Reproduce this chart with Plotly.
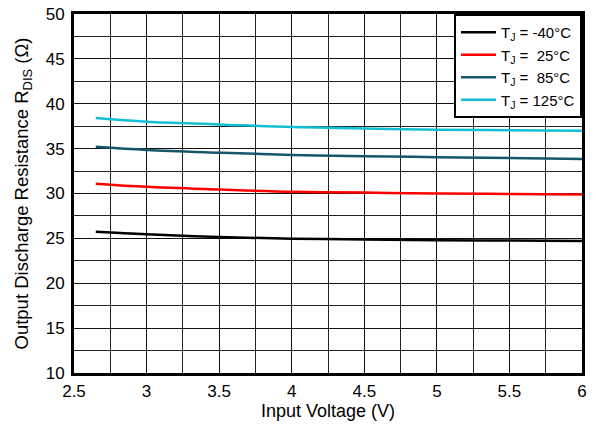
import plotly.graph_objects as go

vin = [2.65, 3.0, 3.5, 4.0, 4.5, 5.0, 5.5, 6.0]
r_m40 = [25.73, 25.45, 25.15, 24.96, 24.88, 24.8, 24.75, 24.7]
r_25 = [31.1, 30.75, 30.45, 30.2, 30.1, 30.0, 29.95, 29.9]
r_85 = [35.2, 34.85, 34.55, 34.3, 34.15, 34.05, 33.95, 33.85]
r_125 = [38.4, 38.0, 37.7, 37.4, 37.25, 37.1, 37.05, 37.0]

names = ["T<sub>J</sub> = -40°C", "T<sub>J</sub> =\u00a0\u00a025°C",
         "T<sub>J</sub> =\u00a0\u00a085°C", "T<sub>J</sub> = 125°C"]
series = [r_m40, r_25, r_85, r_125]
colors = ["#000000", "#ff0000", "#17576b", "#12c0d4"]

fig = go.Figure()
for n, s, c in zip(names, series, colors):
    fig.add_trace(go.Scatter(x=vin, y=s, name=n, mode="lines",
                             line=dict(color=c, width=2.5, shape="spline")))

font = "Liberation Sans, Arial, sans-serif"
# page body has an 8px margin, so the figure is offset by 8px
fig.update_layout(
    width=580, height=417,
    margin=dict(l=66, r=6, t=6, b=52),
    paper_bgcolor="white", plot_bgcolor="white",
    font=dict(family=font, color="black", size=17),
    showlegend=True,
    legend=dict(x=1, y=1, xanchor="right", yanchor="top",
                bgcolor="white", bordercolor="black", borderwidth=2,
                font=dict(size=15, family=font), tracegroupgap=0,
                itemwidth=35),
)
fig.update_xaxes(range=[2.5, 6], dtick=0.5, tick0=2.5,
                 showgrid=True, gridcolor="#111111", gridwidth=1,
                 minor=dict(dtick=0.25, showgrid=True, gridcolor="#222222", gridwidth=1),
                 showline=True, linecolor="black", linewidth=3, mirror=True,
                 ticks="outside", ticklen=1, tickcolor="rgba(0,0,0,0)",
                 zeroline=False, automargin=False, ticklabeloverflow="allow",
                 title=dict(text="Input Voltage (V)", font=dict(size=18), standoff=4),
                 tickfont=dict(size=17))
fig.update_yaxes(range=[10, 50], dtick=5,
                 showgrid=True, gridcolor="#111111", gridwidth=1,
                 minor=dict(dtick=2.5, showgrid=True, gridcolor="#222222", gridwidth=1),
                 showline=True, linecolor="black", linewidth=3, mirror=True,
                 ticks="outside", ticklen=3, tickcolor="rgba(0,0,0,0)",
                 zeroline=False, automargin=False, ticklabeloverflow="allow",
                 title=dict(text="Output Discharge Resistance R<sub>DIS</sub> (Ω)\u00a0\u00a0",
                            font=dict(size=18.5), standoff=13),
                 tickfont=dict(size=17))

fig.write_html("out.html")
